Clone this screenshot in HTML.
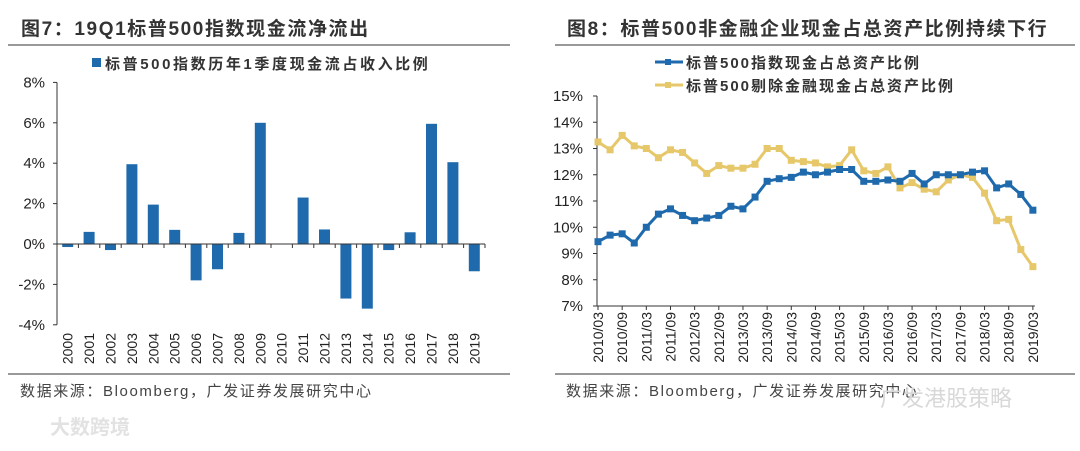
<!DOCTYPE html>
<html><head><meta charset="utf-8"><style>
body{margin:0;background:#fff;width:1080px;height:446px;overflow:hidden;font-family:"Liberation Sans","Noto Sans CJK SC",sans-serif}
svg text{font-family:"Liberation Sans","Noto Sans CJK SC",sans-serif}
</style></head><body>
<svg width="1080" height="446">
<g>
<text x="21" y="35" font-size="19" font-weight="bold" fill="#333" letter-spacing="1.6">图7：19Q1标普500指数现金流净流出</text>
<line x1="8" y1="45" x2="510" y2="45" stroke="#333" stroke-width="1"/>
<rect x="92" y="58" width="9" height="9" fill="#1f6aad"/>
<text x="105" y="69" font-size="15" font-weight="bold" fill="#333" letter-spacing="2.6">标普500指数历年1季度现金流占收入比例</text>
<g id="lc"></g>
<line x1="8" y1="374" x2="510" y2="374" stroke="#333" stroke-width="1"/>
<text x="20" y="396" font-size="15" fill="#444" letter-spacing="1.6">数据来源：Bloomberg，广发证券发展研究中心</text>
<text x="50" y="434" font-size="20" font-weight="bold" fill="#e2e2e2">大数跨境</text>
</g>
<g>
<text x="567" y="35" font-size="19" font-weight="bold" fill="#333" letter-spacing="1.6">图8：标普500非金融企业现金占总资产比例持续下行</text>
<line x1="555" y1="45" x2="1075" y2="45" stroke="#333" stroke-width="1"/>
<line x1="655" y1="62" x2="683" y2="62" stroke="#1f6aad" stroke-width="3"/>
<rect x="665" y="59" width="6" height="6" fill="#1f6aad"/>
<text x="686" y="68" font-size="15" font-weight="bold" fill="#333" letter-spacing="2">标普500指数现金占总资产比例</text>
<line x1="655" y1="85" x2="683" y2="85" stroke="#e6c86a" stroke-width="3"/>
<rect x="665" y="82" width="6" height="6" fill="#e6c86a"/>
<text x="686" y="91" font-size="15" font-weight="bold" fill="#333" letter-spacing="2">标普500剔除金融现金占总资产比例</text>
<g id="rc"></g>
<line x1="555" y1="374" x2="1075" y2="374" stroke="#333" stroke-width="1"/>
<text x="566" y="396" font-size="15" fill="#444" letter-spacing="1.6">数据来源：Bloomberg，广发证券发展研究中心</text>
<text x="880" y="406" font-size="22" fill="#d8d8d8">广发港股策略</text>
</g>
</svg>
<script>
const years=["2000","2001","2002","2003","2004","2005","2006","2007","2008","2009","2010","2011","2012","2013","2014","2015","2016","2017","2018","2019"];
const barValues=[-0.15,0.6,-0.3,3.95,1.95,0.7,-1.8,-1.25,0.55,6.0,0,2.3,0.72,-2.7,-3.2,-0.3,0.58,5.95,4.05,-1.35];
const leftTicks=[8,6,4,2,0,-2,-4];
const quarters=["2010/03","2010/06","2010/09","2010/12","2011/03","2011/06","2011/09","2011/12","2012/03","2012/06","2012/09","2012/12","2013/03","2013/06","2013/09","2013/12","2014/03","2014/06","2014/09","2014/12","2015/03","2015/06","2015/09","2015/12","2016/03","2016/06","2016/09","2016/12","2017/03","2017/06","2017/09","2017/12","2018/03","2018/06","2018/09","2018/12","2019/03"];
const blueValues=[9.45,9.7,9.75,9.4,10.0,10.5,10.7,10.45,10.25,10.35,10.45,10.8,10.7,11.15,11.75,11.85,11.9,12.1,12.0,12.1,12.2,12.2,11.75,11.75,11.8,11.75,12.05,11.65,12.0,12.0,12.0,12.1,12.15,11.5,11.65,11.25,10.65];
const yellowValues=[13.25,12.95,13.5,13.1,13.0,12.65,12.95,12.85,12.45,12.05,12.35,12.25,12.25,12.4,13.0,13.0,12.55,12.5,12.45,12.3,12.35,12.95,12.15,12.05,12.3,11.5,11.7,11.45,11.35,11.8,12.0,11.9,11.3,10.25,10.3,9.15,8.5];
const rightTicks=[15,14,13,12,11,10,9,8,7];
const NS="http://www.w3.org/2000/svg";
function mk(p,t,a){const e=document.createElementNS(NS,t);for(const k in a)e.setAttribute(k,a[k]);p.appendChild(e);return e;}
// left
const lc=document.getElementById('lc');
const lx0=57,lx1=485,ly=v=>244-v*20.2,bw=(lx1-lx0)/years.length;
let e=mk(lc,'line',{x1:lx0,y1:ly(8),x2:lx0,y2:ly(-4),stroke:'#333'});


leftTicks.forEach(t=>{
 let l=mk(lc,'line',{x1:lx0-4,y1:ly(t),x2:lx0,y2:ly(t),stroke:'#333'});
 
 
 let tx=mk(lc,'text',{x:lx0-12,y:ly(t)+5,'font-size':15,'text-anchor':'end',fill:'#222'});tx.textContent=t+'%';
 
 
});
years.forEach((y,i)=>{
 const cx=lx0+bw*(i+0.5),v=barValues[i];
 let r=mk(lc,'rect',{x:cx-5.5,y:Math.min(ly(v),ly(0)),width:11,height:Math.abs(ly(v)-ly(0)),fill:'#1f6aad'});
 
 
 let tk=mk(lc,'line',{x1:lx0+bw*(i+1),y1:ly(0),x2:lx0+bw*(i+1),y2:ly(0)+4,stroke:'#333'});
 
 
 let tx=mk(lc,'text',{x:0,y:0,'font-size':14,'text-anchor':'end',fill:'#222',transform:`translate(${cx+5},333) rotate(-90)`});tx.textContent=y;
 
 
});
e=mk(lc,'line',{x1:lx0,y1:ly(0),x2:lx1,y2:ly(0),stroke:'#333'});


// right
const rc=document.getElementById('rc');
const rx0=597,rx=i=>598+i*12.08,ry=v=>306-(v-7)*26.25;
e=mk(rc,'line',{x1:rx0,y1:ry(15),x2:rx0,y2:ry(7),stroke:'#333'});


e=mk(rc,'line',{x1:rx0,y1:ry(7),x2:rx(36)+2,y2:ry(7),stroke:'#333'});


rightTicks.forEach(t=>{
 let l=mk(rc,'line',{x1:rx0-4,y1:ry(t),x2:rx0,y2:ry(t),stroke:'#333'});
 
 
 let tx=mk(rc,'text',{x:rx0-14,y:ry(t)+5,'font-size':15,'text-anchor':'end',fill:'#222'});tx.textContent=t+'%';
 
 
});
quarters.forEach((q,i)=>{
 if(i%2)return;
 let tk=mk(rc,'line',{x1:rx(i),y1:ry(7),x2:rx(i),y2:ry(7)+4,stroke:'#333'});
 
 
 let tx=mk(rc,'text',{x:0,y:0,'font-size':14,'text-anchor':'end',fill:'#222',transform:`translate(${rx(i)+5},312) rotate(-90)`});tx.textContent=q;
 
 
});
[[yellowValues,'#e6c86a','yellow'],[blueValues,'#1f6aad','blue']].forEach(([vals,c,n])=>{
 let p=mk(rc,'polyline',{points:vals.map((v,i)=>rx(i)+','+ry(v)).join(' '),fill:'none',stroke:c,'stroke-width':3});
 
 
 vals.forEach((v,i)=>{
  let m=mk(rc,'rect',{x:rx(i)-3.5,y:ry(v)-3.5,width:7,height:7,fill:c});
  
  
 });
});
</script>
</body></html>
